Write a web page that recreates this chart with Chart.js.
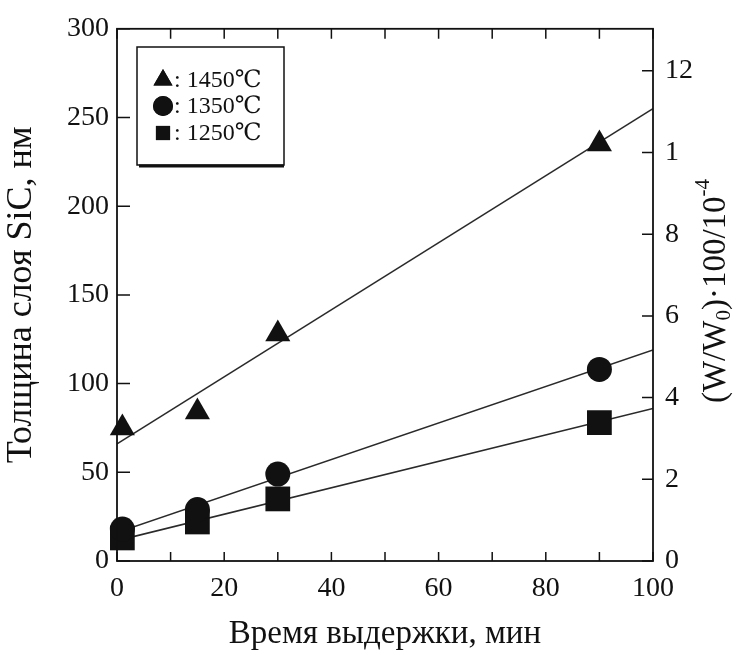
<!DOCTYPE html>
<html>
<head>
<meta charset="utf-8">
<script src="https://cdn.jsdelivr.net/npm/chart.js@4.4.0/dist/chart.umd.min.js"></script>
<style>
  html, body { margin: 0; padding: 0; background: #fff; }
  #wrap { width: 735px; height: 654px; }
</style>
</head>
<body>
<div id="wrap"><canvas id="chart" width="735" height="654"></canvas></div>
<script>
// экспериментальные точки
const times = [1, 15, 30, 90];
const t1450 = [75, 84, 128, 235];
const t1350 = [18, 29, 49, 108];
const t1250 = [13, 22, 35, 78];

// линии аппроксимации
const fitX = [0, 100];
const fit1450 = [66, 255];
const fit1350 = [16, 119];
const fit1250 = [11.5, 86];

const legendLabels = [": 1450℃", ": 1350℃", ": 1250℃"];

// деления осей
const xTicks = [0, 10, 20, 30, 40, 50, 60, 70, 80, 90, 100];
const xTickLabels = ["0", "", "20", "", "40", "", "60", "", "80", "", "100"];
const leftTicks = [0, 50, 100, 150, 200, 250, 300];
const rightTicks = [0, 2, 4, 6, 8, 10, 12];
const rightTickLabels = ["0", "2", "4", "6", "8", "1", "12"];

const SERIF = "'Liberation Serif', 'DejaVu Serif', serif";
const INK = "#111";

function pts(xs, ys) {
  return xs.map((x, i) => ({ x, y: ys[i] }));
}

function markerSet(label, data, style, radius) {
  return {
    type: "scatter",
    label,
    data,
    pointStyle: style,
    pointRadius: radius,
    pointHoverRadius: radius,
    backgroundColor: INK,
    borderColor: INK,
    borderWidth: 0,
    clip: false,
    order: 0,
  };
}

function fitLine(data) {
  return {
    type: "line",
    data,
    borderColor: "#2a2a2a",
    borderWidth: 1.6,
    pointRadius: 0,
    fill: false,
    tension: 0,
    order: 1,
  };
}

function setTicks(values) {
  return (scale) => {
    scale.ticks = values.map((v) => ({ value: v }));
  };
}

// рамка, внутренние засечки, легенда и правая подпись
const framePlugin = {
  id: "frame",
  afterDraw(chart) {
    const { ctx, chartArea: a, scales } = chart;
    ctx.save();
    ctx.strokeStyle = INK;
    ctx.lineWidth = 1.8;
    ctx.strokeRect(a.left, a.top, a.right - a.left, a.bottom - a.top);

    ctx.lineWidth = 1.5;
    ctx.beginPath();
    xTicks.forEach((v) => {
      const x = scales.x.getPixelForValue(v);
      ctx.moveTo(x, a.bottom);
      ctx.lineTo(x, a.bottom - 9);
      ctx.moveTo(x, a.top);
      ctx.lineTo(x, a.top + 10);
    });
    leftTicks.forEach((v) => {
      const y = scales.y.getPixelForValue(v);
      ctx.moveTo(a.left, y);
      ctx.lineTo(a.left + 13, y);
    });
    rightTicks.forEach((v) => {
      const y = scales.y1.getPixelForValue(v);
      ctx.moveTo(a.right, y);
      ctx.lineTo(a.right - 11, y);
    });
    ctx.stroke();

    // легенда
    const bx = 137, by = 47, bw = 147, bh = 118;
    ctx.fillStyle = "#fff";
    ctx.fillRect(bx, by, bw, bh);
    ctx.lineWidth = 1.5;
    ctx.strokeRect(bx, by, bw, bh);
    ctx.lineWidth = 3;
    ctx.beginPath();
    ctx.moveTo(bx + 2, by + bh + 1);
    ctx.lineTo(bx + bw, by + bh + 1);
    ctx.stroke();

    const rows = [80, 106, 133];
    const styles = ["triangle", "circle", "rect"];
    const radii = [11, 10, 10];
    ctx.fillStyle = INK;
    ctx.font = "24px " + SERIF;
    ctx.textBaseline = "middle";
    ctx.textAlign = "left";
    rows.forEach((y, i) => {
      Chart.helpers.drawPoint(ctx, { pointStyle: styles[i], radius: radii[i], borderWidth: 0 }, 163, y);
      ctx.fill();
      ctx.fillText(legendLabels[i], 174, y + 1);
    });

    // подпись правой оси
    const parts = [
      { t: "(W/W", size: 33, dy: 0 },
      { t: "0", size: 21, dy: 8 },
      { t: ")·100/10", size: 33, dy: 0 },
      { t: "-4", size: 21, dy: -13 },
    ];
    let total = 0;
    parts.forEach((p) => {
      ctx.font = p.size + "px " + SERIF;
      p.w = ctx.measureText(p.t).width;
      total += p.w;
    });
    ctx.translate(716, 291);
    ctx.rotate(-Math.PI / 2);
    ctx.textBaseline = "middle";
    let cx = -total / 2;
    parts.forEach((p) => {
      ctx.font = p.size + "px " + SERIF;
      ctx.fillText(p.t, cx, p.dy);
      cx += p.w;
    });
    ctx.restore();
  },
};

new Chart(document.getElementById("chart"), {
  data: {
    datasets: [
      markerSet("1450", pts(times, t1450), "triangle", 14.5),
      markerSet("1350", pts(times, t1350), "circle", 12.5),
      markerSet("1250", pts(times, t1250), "rect", 17.5),
      fitLine(pts(fitX, fit1450)),
      fitLine(pts(fitX, fit1350)),
      fitLine(pts(fitX, fit1250)),
    ],
  },
  options: {
    responsive: false,
    animation: false,
    layout: { padding: { top: 28, left: 0, right: 0, bottom: 0 } },
    plugins: {
      legend: { display: false },
      tooltip: { enabled: false },
    },
    scales: {
      x: {
        type: "linear",
        min: 0,
        max: 100,
        afterBuildTicks: setTicks(xTicks),
        afterFit: (s) => { s.height = 93; },
        grid: { display: false, drawTicks: false },
        border: { display: false },
        ticks: {
          padding: 11,
          color: INK,
          font: { family: SERIF, size: 28 },
          callback: (v, i) => xTickLabels[i],
          maxRotation: 0,
          autoSkip: false,
        },
        title: {
          display: true,
          text: "Время выдержки, мин",
          color: INK,
          font: { family: SERIF, size: 33 },
          padding: { top: 0, bottom: 0 },
        },
      },
      y: {
        type: "linear",
        position: "left",
        min: 0,
        max: 300,
        afterBuildTicks: setTicks(leftTicks),
        afterFit: (s) => { s.width = 117; },
        grid: { display: false, drawTicks: false },
        border: { display: false },
        ticks: {
          padding: 8,
          color: INK,
          font: { family: SERIF, size: 28 },
          autoSkip: false,
        },
        title: {
          display: true,
          text: "Толщина слоя SiC, нм",
          color: INK,
          font: { family: SERIF, size: 36 },
          padding: { top: 0, bottom: 0 },
        },
      },
      y1: {
        type: "linear",
        position: "right",
        min: 0,
        max: 13.03,
        afterBuildTicks: setTicks(rightTicks),
        afterFit: (s) => { s.width = 82; },
        grid: { display: false, drawTicks: false },
        border: { display: false },
        ticks: {
          padding: 12,
          color: INK,
          font: { family: SERIF, size: 28 },
          callback: (v, i) => rightTickLabels[i],
          autoSkip: false,
        },
      },
    },
  },
  plugins: [framePlugin],
});
</script>
</body>
</html>
